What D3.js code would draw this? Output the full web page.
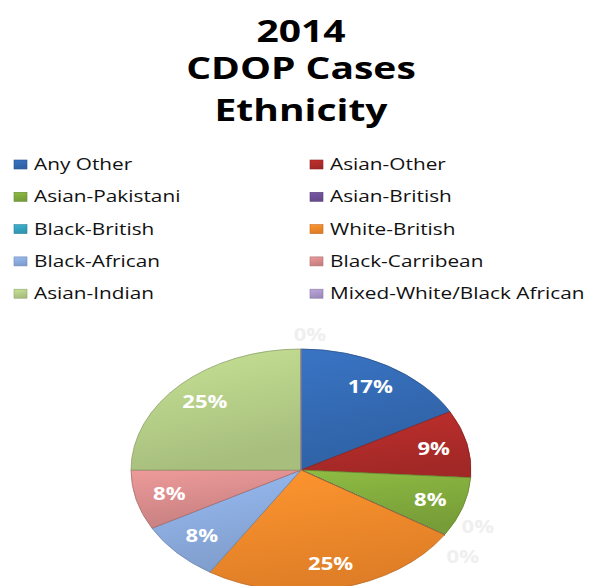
<!DOCTYPE html>
<html lang="en">
<head>
<meta charset="utf-8">
<style>
  body { margin: 0; background: #fff; }
  svg { display: block; }
</style>
</head>
<body>
<script src="https://cdn.jsdelivr.net/npm/d3@7"></script>
<script>

// data (percent of cases)
var categories = ["Any Other", "Asian-Other", "Asian-Pakistani", "Asian-British", "Black-British",
                  "White-British", "Black-African", "Black-Carribean", "Asian-Indian", "Mixed-White/Black African"];
var values = [17, 9, 8, 0, 0, 25, 8, 8, 25, 0];
var colors = ["#3368b0", "#ad2b29", "#80a93c", "#6d4f96", "#35a0bd",
              "#f0872a", "#8aaadc", "#d68a8a", "#b3cc86", "#a996c8"];
var titleLines = ["2014", "CDOP Cases", "Ethnicity"];

var width = 598, height = 586;
var cx = 301, cy = 470, rx = 170, ry = 121;
var stretch = 1.3; // the picture's text is wide

var svg = d3.select("body").append("svg")
  .attr("width", width)
  .attr("height", height);

var defs = svg.append("defs");

// gradients, light on top like the excel 3d pie
colors.forEach(function(c, i) {
  var g = defs.append("linearGradient")
    .attr("id", "grad" + i)
    .attr("x1", 0).attr("y1", 0).attr("x2", 0.3).attr("y2", 1);
  g.append("stop").attr("offset", "0%").attr("stop-color", d3.color(c).brighter(0.3));
  g.append("stop").attr("offset", "100%").attr("stop-color", d3.color(c).darker(0.2));
});

// title
svg.append("g")
  .attr("font-family", "Open Sans, sans-serif")
  .attr("font-weight", "bold")
  .attr("font-size", 30)
  .attr("text-anchor", "middle")
  .selectAll("text")
  .data(titleLines)
  .enter().append("text")
  .attr("transform", function(d, i) {
    return "translate(301," + [42, 79, 121][i] + ") scale(" + stretch + ",1)";
  })
  .text(function(d) { return d; });

// legend, two columns
var legend = svg.append("g")
  .attr("font-family", "Open Sans, sans-serif")
  .attr("font-size", 16)
  .selectAll("g")
  .data(categories)
  .enter().append("g")
  .attr("transform", function(d, i) {
    return "translate(" + (i % 2 ? 310 : 14) + "," + (170 + Math.floor(i / 2) * 32.3) + ")";
  });

legend.append("rect")
  .attr("y", -10)
  .attr("width", 13)
  .attr("height", 9)
  .attr("fill", function(d, i) { return "url(#grad" + i + ")"; })
  .attr("stroke", function(d, i) { return d3.color(colors[i]).darker(0.6); })
  .attr("stroke-width", 0.6);

legend.append("text")
  .attr("transform", "translate(20,0) scale(" + stretch + ",1)")
  .attr("fill", "#111")
  .text(function(d) { return d; });

// pie, drawn on a circle then squashed into an ellipse
var pie = d3.pie().sort(null).value(function(d) { return d; });
var arcs = pie(values);
var arc = d3.arc().innerRadius(0).outerRadius(rx);

var pieG = svg.append("g")
  .attr("transform", "translate(" + cx + "," + cy + ") scale(1," + (ry / rx) + ")");

pieG.selectAll("path")
  .data(arcs)
  .enter().append("path")
  .attr("d", arc)
  .attr("fill", function(d, i) { return "url(#grad" + i + ")"; })
  .attr("stroke", function(d, i) { return d3.color(colors[i]).darker(0.7); })
  .attr("stroke-width", 0.8)
  .attr("vector-effect", "non-scaling-stroke");

// labels
var labelArc = d3.arc().innerRadius(rx * 0.8).outerRadius(rx * 0.8);
var zeroCount = {};
svg.append("g")
  .attr("font-family", "Open Sans, sans-serif")
  .attr("font-weight", "bold")
  .attr("font-size", 17)
  .attr("text-anchor", "middle")
  .selectAll("text")
  .data(arcs)
  .enter().append("text")
  .attr("transform", function(d) {
    var x, y;
    if (d.data === 0) {
      var a = d.startAngle;
      var key = a.toFixed(3);
      var k = zeroCount[key] = (zeroCount[key] || 0) + 1;
      if (a < 0.01 || a > 6.27) { x = cx + 9; y = cy - ry - 14; }
      else {
        x = cx + rx * 1.1 * Math.sin(a) + 19 - (k - 1) * 15;
        y = cy - ry * 1.05 * Math.cos(a) - 11 + (k - 1) * 30;
      }
    } else {
      var c = labelArc.centroid(d);
      x = cx + c[0];
      y = cy + c[1] * ry / rx;
    }
    return "translate(" + x + "," + y + ") scale(" + stretch + ",1)";
  })
  .attr("dy", "0.35em")
  .attr("fill", function(d) { return d.data === 0 ? "#efefef" : "#fff"; })
  .text(function(d) { return d.data + "%"; });

</script>
</body>
</html>
